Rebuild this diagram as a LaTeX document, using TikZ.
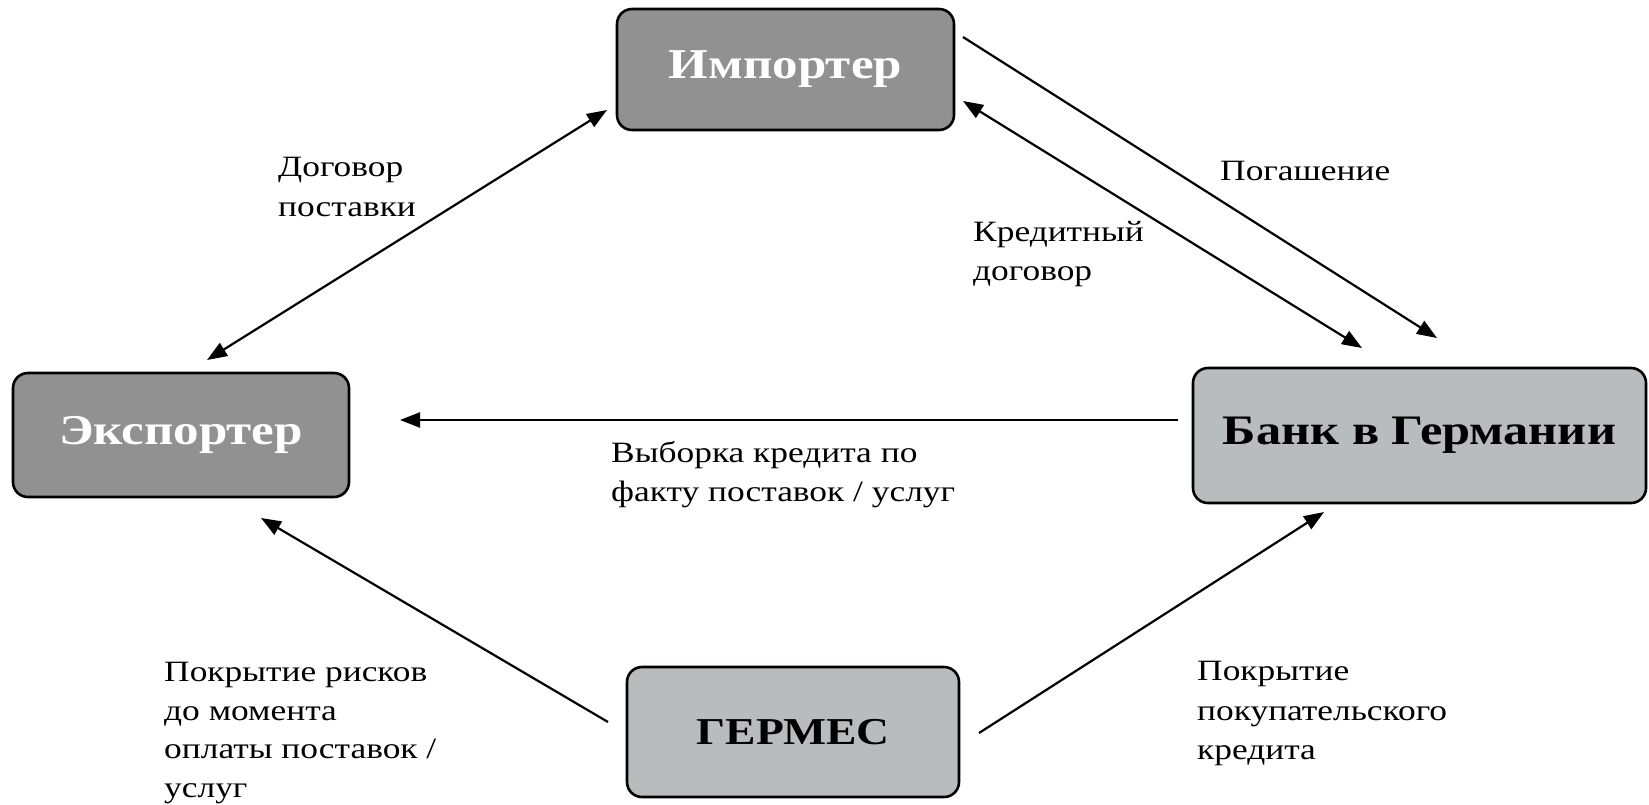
\documentclass[tikz,border=0pt]{standalone}
\usepackage{fontspec}
\setmainfont[FakeStretch=1.2]{Liberation Serif}
\usetikzlibrary{arrows.meta}
\definecolor{darkbox}{RGB}{145,145,145}
\definecolor{lightbox}{RGB}{185,188,189}
\tikzset{
  boxbase/.style={draw=black, line width=2.6pt, rounded corners=15pt, inner sep=0pt},
  darknode/.style={boxbase, fill=darkbox, text=white, font=\fontsize{42.5}{48}\selectfont\bfseries},
  lightnode/.style={boxbase, fill=lightbox, text=black, font=\fontsize{42}{48}\selectfont\bfseries},
  conn/.style={line width=2.2pt, -{Triangle[length=20pt,width=15pt]}},
  dconn/.style={line width=2.2pt, {Triangle[length=20pt,width=15pt]}-{Triangle[length=20pt,width=15pt]}},
  lbl/.style={anchor=north west, align=left, inner sep=0pt, font=\fontsize{29.5}{39.5}\selectfont}
}
\begin{document}
\begin{tikzpicture}[x=1pt,y=-1pt]
\useasboundingbox (0,0) rectangle (1649,804);
% boxes
\node[darknode, minimum width=337pt, minimum height=121pt] (imp) at (785.5,69.5) {\raisebox{-7pt}{Импортер}};
\node[darknode, minimum width=336pt, minimum height=124pt] (exp) at (181,435) {\raisebox{-6pt}{Экспортер}};
\node[lightnode, minimum width=453pt, minimum height=135pt] (bank) at (1419.5,435.5) {\raisebox{-5pt}{Банк в Германии}};
\node[lightnode, minimum width=332pt, minimum height=130pt, font=\fontsize{38}{44}\selectfont\bfseries] (herm) at (793,732) {\raisebox{-2pt}{ГЕРМЕС}};
% connector ends
\coordinate (c1a) at (207,360);
\coordinate (c1b) at (607,110);
\coordinate (c2a) at (963,37);
\coordinate (c2b) at (1437,338);
\coordinate (c3a) at (963,101);
\coordinate (c3b) at (1362,348);
\coordinate (c4a) at (1178,420);
\coordinate (c4b) at (400,420);
\coordinate (c5a) at (608,722);
\coordinate (c5b) at (261,518);
\coordinate (c6a) at (979,733);
\coordinate (c6b) at (1324,512);
% connectors
\draw[dconn] (c1a) -- (c1b);
\draw[conn] (c2a) -- (c2b);
\draw[dconn] (c3a) -- (c3b);
\draw[conn] (c4a) -- (c4b);
\draw[conn] (c5a) -- (c5b);
\draw[conn] (c6a) -- (c6b);
% labels
\node[lbl] (l1) at (278,157) {Договор\\поставки};
\node[lbl] (l2) at (1220,161) {Погашение};
\node[lbl] (l3) at (973,221) {Кредитный\\договор};
\node[lbl] (l4) at (611,441) {Выборка кредита по\\факту поставок / услуг};
\node[lbl, font=\fontsize{29.5}{38.5}\selectfont] (l5) at (164,662) {Покрытие рисков\\до момента\\оплаты поставок /\\услуг};
\node[lbl] (l6) at (1197,661) {Покрытие\\покупательского\\кредита};
\end{tikzpicture}
\end{document}
